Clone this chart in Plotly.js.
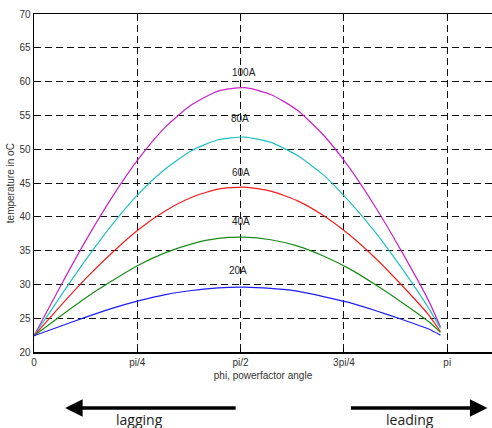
<!DOCTYPE html>
<html>
<head>
<meta charset="utf-8">
<script src="https://cdn.plot.ly/plotly-3.0.1.min.js"></script>
<style>html,body{margin:0;padding:0;background:#fff;}#chart{width:492px;height:428px;}</style>
</head>
<body>
<div id="chart"></div>
<script>
// power factor angle (rad)
const phi = [0, 0.2, 0.4, 0.6, 0.8, 1.0, 1.2, 1.4, 1.6, 1.8, 2.0, 2.2, 2.4, 2.6, 2.8, 3.0, 3.09];
// temperature in oC per load current
const t100A = [22.4, 29.7, 36.7, 43.1, 48.7, 53.3, 56.6, 58.6, 59.1, 58.1, 55.8, 52.1, 47.2, 41.3, 34.7, 27.6, 23.7];
const t80A  = [22.4, 28.2, 33.8, 39.0, 43.5, 47.1, 49.8, 51.4, 51.8, 51.0, 49.1, 46.2, 42.2, 37.6, 32.3, 26.5, 23.5];
const t60A  = [22.4, 26.8, 31.0, 34.8, 38.2, 40.9, 42.9, 44.1, 44.4, 43.8, 42.4, 40.2, 37.3, 33.8, 29.8, 25.5, 23.0];
const t40A  = [22.4, 25.3, 28.1, 30.6, 32.9, 34.7, 36.0, 36.8, 37.0, 36.6, 35.7, 34.2, 32.3, 29.9, 27.3, 24.5, 22.9];
const t20A  = [22.4, 23.8, 25.2, 26.5, 27.6, 28.5, 29.1, 29.5, 29.6, 29.4, 29.0, 28.2, 27.3, 26.1, 24.8, 23.4, 22.5];
const seriesNames = ["100A", "80A", "60A", "40A", "20A"];
const labelX = [1.60, 1.565, 1.57, 1.57, 1.55];
const labelY = [61.3, 54.5, 46.5, 39.3, 32.0];
const tickVals = [0, Math.PI/4, Math.PI/2, 3*Math.PI/4, Math.PI];
const tickText = ["0", "pi/4", "pi/2", "3pi/4", "pi"];
const yTicks = [20, 25, 30, 35, 40, 45, 50, 55, 60, 65, 70];

const narrow = "Liberation Sans Narrow, Arial Narrow, Liberation Sans, Arial, sans-serif";
const colors = ["#c823c8", "#22c0c0", "#f01e1e", "#1a8c1a", "#1f1fee"];
const data = [t100A, t80A, t60A, t40A, t20A].map((ys, i) => ({
  x: phi, y: ys, type: "scatter", mode: "lines", name: seriesNames[i],
  line: {color: colors[i], width: 1.2, shape: "spline", smoothing: 0.6}, hoverinfo: "skip"
}));

const annotations = seriesNames.map((n, i) => ({
  x: labelX[i], y: labelY[i], xref: "x", yref: "y", text: n, showarrow: false,
  font: {family: narrow, size: 10, color: "#222"}
}));
annotations.push(
  {x: 0.068, y: -0.166, xref: "paper", yref: "paper", ax: 172, ay: 0, axref: "pixel", ayref: "pixel",
   showarrow: true, arrowhead: 2, arrowsize: 1.0, arrowwidth: 3.5, arrowcolor: "#000", text: ""},
  {x: 0.990, y: -0.166, xref: "paper", yref: "paper", ax: -138, ay: 0, axref: "pixel", ayref: "pixel",
   showarrow: true, arrowhead: 2, arrowsize: 1.0, arrowwidth: 3.5, arrowcolor: "#000", text: ""},
  {x: 0.231, y: -0.201, xref: "paper", yref: "paper", xanchor: "center", yanchor: "middle", text: "lagging", showarrow: false,
   font: {family: "Open Sans, Liberation Sans, sans-serif", size: 14, color: "#222"}},
  {x: 0.821, y: -0.201, xref: "paper", yref: "paper", xanchor: "center", yanchor: "middle", text: "leading", showarrow: false,
   font: {family: "Open Sans, Liberation Sans, sans-serif", size: 14, color: "#222"}},
  {x: -0.052, y: 0.5, xref: "paper", yref: "paper", xanchor: "center", yanchor: "middle", textangle: -90,
   text: "temperature in oC", showarrow: false, font: {family: narrow, size: 10, color: "#333"}}
);

const gridStyle = {gridcolor: "#111", gridwidth: 1, griddash: "7px,4px"};
const layout = {
  width: 492, height: 428,
  margin: {l: 34, r: 0, t: 14, b: 76},
  paper_bgcolor: "#fff", plot_bgcolor: "#fff",
  showlegend: false,
  xaxis: Object.assign({
    range: [0, 3.482], tickvals: tickVals, ticktext: tickText,
    showline: true, mirror: "ticks", linecolor: "#000", linewidth: 1.5,
    ticks: "inside", ticklen: 4, tickcolor: "#000", zeroline: false,
    tickfont: {family: narrow, size: 10, color: "#333"},
    title: {text: "phi, powerfactor angle", font: {family: narrow, size: 10, color: "#333"}, standoff: 5}
  }, gridStyle),
  yaxis: Object.assign({
    range: [20, 70], tickvals: yTicks,
    showline: true, mirror: "ticks", linecolor: "#000", linewidth: 1.5,
    ticks: "inside", ticklen: 4, tickcolor: "#000", zeroline: false,
    tickfont: {family: narrow, size: 10, color: "#333"}
  }, gridStyle),
  annotations: annotations
};
Plotly.newPlot("chart", data, layout, {staticPlot: true, displayModeBar: false});
</script>
</body>
</html>
